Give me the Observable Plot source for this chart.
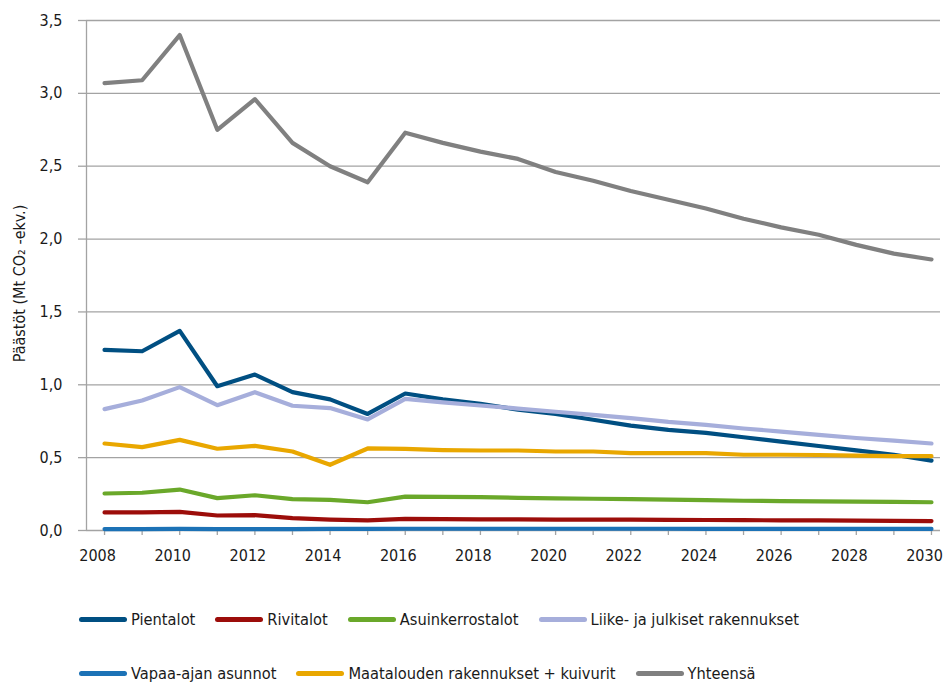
<!DOCTYPE html>
<html lang="fi">
<head>
<meta charset="utf-8">
<script src="https://cdn.jsdelivr.net/npm/d3@7"></script>
<script src="https://cdn.jsdelivr.net/npm/@observablehq/plot@0.6"></script>
<style>
  html, body { margin: 0; padding: 0; background: #fff; }
  body { width: 945px; height: 682px; overflow: hidden; font-family: "DejaVu Sans", sans-serif; font-stretch: condensed; }
  #chart { position: relative; width: 945px; }
  #chart svg text { font-stretch: condensed; }
  .legend { position: relative; width: 945px; height: 97px; color: #1a1a1a; font-size: 16.3px; }
  .legend .row { position: absolute; left: 79px; display: flex; align-items: center; height: 24px; }
  .legend .row1 { top: 22px; }
  .legend .row2 { top: 76px; }
  .legend .item { display: flex; align-items: center; margin-right: 20px; white-space: nowrap; }
  .legend .sw { width: 48px; height: 5px; border-radius: 2.5px; margin-right: 4px; }
</style>
</head>
<body>
<div id="chart"></div>
<script>
// Years on the category axis
const years = [2008, 2009, 2010, 2011, 2012, 2013, 2014, 2015, 2016, 2017, 2018, 2019,
               2020, 2021, 2022, 2023, 2024, 2025, 2026, 2027, 2028, 2029, 2030];
const labelYears = [2008, 2010, 2012, 2014, 2016, 2018, 2020, 2022, 2024, 2026, 2028, 2030];
const yTicks = [0, 0.5, 1.0, 1.5, 2.0, 2.5, 3.0, 3.5];

// Emissions by building type, Mt CO2-eq.
const pientalot        = [1.24, 1.23, 1.37, 0.99, 1.07, 0.95, 0.90, 0.80, 0.94, 0.90, 0.87, 0.83,
                          0.80, 0.76, 0.72, 0.69, 0.67, 0.64, 0.61, 0.58, 0.55, 0.52, 0.48];
const rivitalot        = [0.124, 0.124, 0.128, 0.103, 0.105, 0.085, 0.075, 0.069, 0.080, 0.078, 0.077, 0.076,
                          0.075, 0.075, 0.074, 0.073, 0.072, 0.071, 0.070, 0.069, 0.068, 0.066, 0.065];
const asuinkerrostalot = [0.254, 0.259, 0.281, 0.222, 0.242, 0.215, 0.210, 0.194, 0.232, 0.231, 0.229, 0.224,
                          0.220, 0.218, 0.215, 0.212, 0.209, 0.204, 0.202, 0.200, 0.198, 0.196, 0.194];
const liikeJulkiset    = [0.833, 0.892, 0.984, 0.860, 0.949, 0.856, 0.840, 0.762, 0.903, 0.879, 0.858, 0.837,
                          0.815, 0.794, 0.771, 0.745, 0.725, 0.700, 0.679, 0.656, 0.635, 0.617, 0.597];
const vapaaAjan        = [0.010, 0.010, 0.011, 0.010, 0.010, 0.010, 0.011, 0.011, 0.012, 0.012, 0.012, 0.012,
                          0.012, 0.012, 0.012, 0.012, 0.011, 0.011, 0.011, 0.011, 0.011, 0.011, 0.011];
const maatalous        = [0.597, 0.572, 0.622, 0.561, 0.581, 0.542, 0.451, 0.563, 0.560, 0.552, 0.549, 0.549,
                          0.542, 0.542, 0.531, 0.531, 0.531, 0.520, 0.520, 0.518, 0.514, 0.510, 0.510];
const yhteensa         = [3.07, 3.09, 3.40, 2.75, 2.96, 2.66, 2.50, 2.39, 2.73, 2.66, 2.60, 2.55,
                          2.46, 2.40, 2.33, 2.27, 2.21, 2.14, 2.08, 2.03, 1.96, 1.90, 1.86];

const seriesNames  = ["Pientalot", "Rivitalot", "Asuinkerrostalot", "Liike- ja julkiset rakennukset",
                      "Vapaa-ajan asunnot", "Maatalouden rakennukset + kuivurit", "Yhteensä"];
const seriesValues = [pientalot, rivitalot, asuinkerrostalot, liikeJulkiset, vapaaAjan, maatalous, yhteensa];
const seriesColors = ["#004f82", "#9c0d0a", "#6aa82a", "#a6aedb", "#1c72b6", "#e9a700", "#808080"];

// x domain starts half a category before 2008 so the value axis sits left of the first point
const xDomain = [2007.52, 2030.24];
const yLabel = "Päästöt (Mt CO₂ -ekv.)";
const fmt = d => d.toFixed(1).replace(".", ",");
const font = `"DejaVu Sans", sans-serif`;

const rows = seriesNames.flatMap((name, i) =>
  years.map((year, j) => ({series: name, year, value: seriesValues[i][j]})));

const lineMarks = seriesNames.map((name, i) =>
  Plot.line(rows.filter(d => d.series === name), {
    x: "year", y: "value", stroke: seriesColors[i], strokeWidth: 4.2,
    strokeLinejoin: "round", strokeLinecap: "round"
  }));

const chart = Plot.plot({
  width: 945,
  height: 585,
  marginLeft: 86,
  marginRight: 5,
  marginTop: 20,
  marginBottom: 55,
  style: {fontFamily: font, fontSize: "16px", color: "#1a1a1a", background: "#fff", overflow: "visible"},
  x: {domain: xDomain},
  y: {domain: [0, 3.5]},
  marks: [
    Plot.gridY(yTicks.filter(d => d > 0), {stroke: "#a3a3a3", strokeOpacity: 1, strokeWidth: 1.3}),
    Plot.ruleX([xDomain[0]], {stroke: "#a3a3a3", strokeWidth: 1.3}),
    Plot.ruleY([0], {stroke: "#a3a3a3", strokeWidth: 1.3}),
    Plot.axisY({ticks: yTicks, tickSize: 8, tickPadding: 16, tickFormat: fmt, stroke: "#a3a3a3",
                strokeWidth: 1.3, label: null, fill: "#1a1a1a"}),
    Plot.axisX({ticks: years, tickSize: 5, tickFormat: () => "", stroke: "#a3a3a3", strokeWidth: 1.3, label: null}),
    Plot.axisX({ticks: labelYears, tickSize: 0, tickPadding: 19, dx: -7, tickFormat: d => String(d),
                label: null, fill: "#1a1a1a"}),
    Plot.text([yLabel], {frameAnchor: "left", textAnchor: "middle", dx: -67, dy: 8, rotate: -90,
                         fill: "#1a1a1a", fontSize: 16}),
    ...lineMarks
  ]
});
document.getElementById("chart").appendChild(chart);

// Legend below the plot, two rows
const legend = d3.select("body").append("div").attr("class", "legend");
const groups = [[0, 1, 2, 3], [4, 5, 6]];
groups.forEach((idx, r) => {
  const row = legend.append("div").attr("class", `row row${r + 1}`);
  idx.forEach(i => {
    const item = row.append("div").attr("class", "item");
    item.append("span").attr("class", "sw").style("background", seriesColors[i]);
    item.append("span").text(seriesNames[i]);
  });
});
</script>
</body>
</html>
